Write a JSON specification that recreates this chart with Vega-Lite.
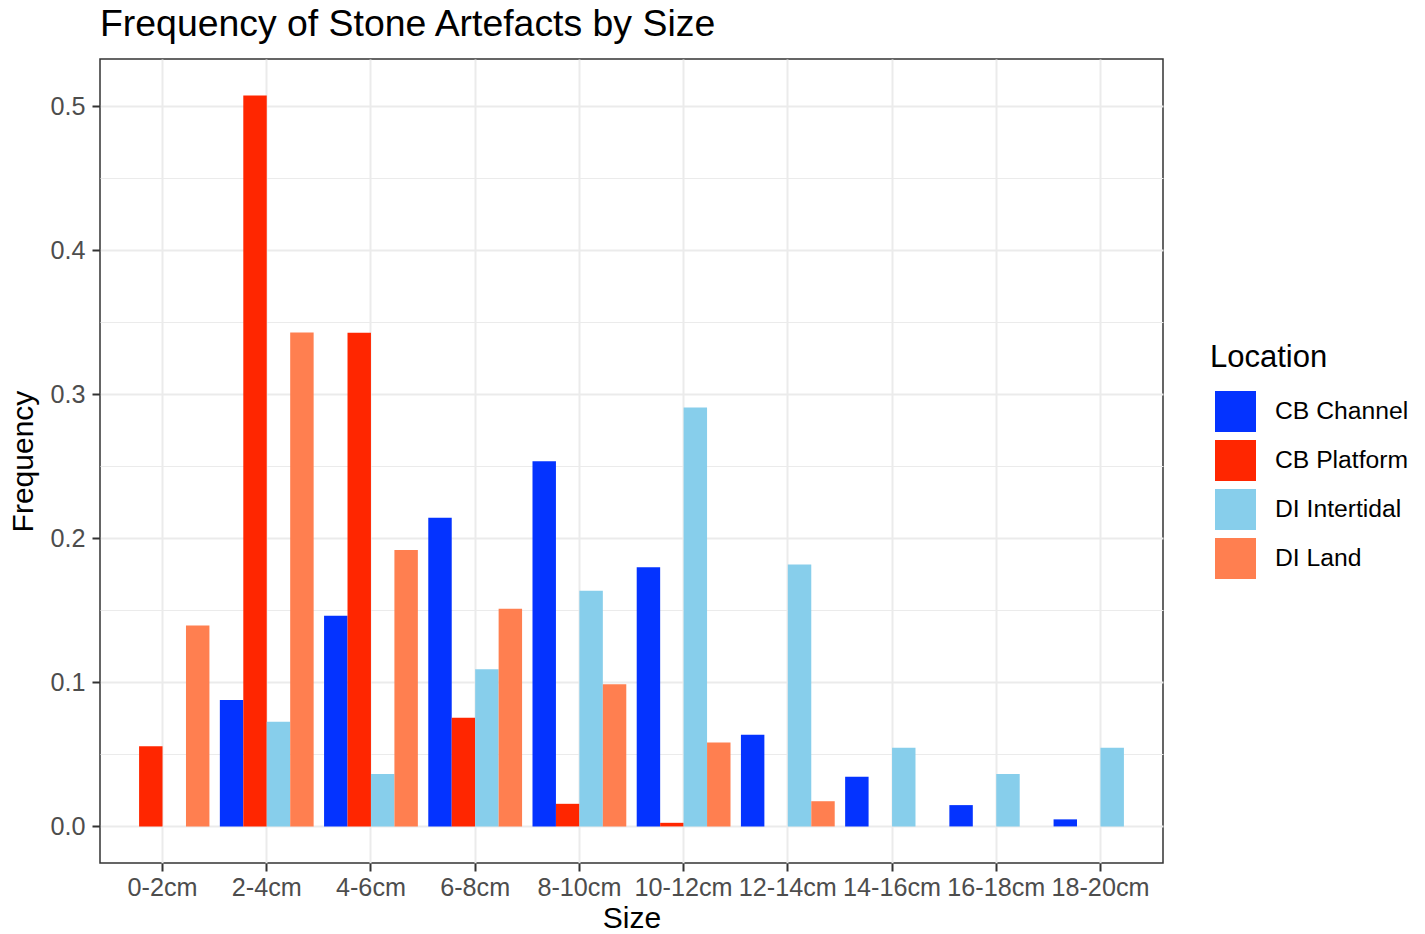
{
  "$schema": "https://vega.github.io/schema/vega-lite/v6.json",
  "width": 1063,
  "height": 804,
  "autosize": {"type": "none"},
  "padding": {"left": 100, "top": 59, "right": 262, "bottom": 71},
  "background": "white",
  "title": {
    "text": "Frequency of Stone Artefacts by Size",
    "anchor": "start",
    "frame": "group",
    "fontSize": 37.4,
    "fontWeight": "normal",
    "font": "Liberation Sans",
    "color": "#000000",
    "offset": 16
  },
  "config": {
    "font": "Liberation Sans",
    "view": {"stroke": "#333333", "strokeWidth": 1.5},
    "axis": {
      "domain": false,
      "gridColor": "#EBEBEB",
      "tickColor": "#333333",
      "tickWidth": 2,
      "tickSize": 8,
      "labelColor": "#4D4D4D",
      "labelFontSize": 25.2,
      "labelFont": "Liberation Sans",
      "titleFont": "Liberation Sans",
      "titleFontSize": 30,
      "titleFontWeight": "normal",
      "titleColor": "#000000"
    }
  },
  "data": {
    "values": [
      {"Size": "0-2cm", "Location": "CB Platform", "Frequency": 0.0557},
      {"Size": "0-2cm", "Location": "DI Land", "Frequency": 0.1395},
      {"Size": "2-4cm", "Location": "CB Channel", "Frequency": 0.0878},
      {"Size": "2-4cm", "Location": "CB Platform", "Frequency": 0.5075},
      {"Size": "2-4cm", "Location": "DI Intertidal", "Frequency": 0.0727},
      {"Size": "2-4cm", "Location": "DI Land", "Frequency": 0.343},
      {"Size": "4-6cm", "Location": "CB Channel", "Frequency": 0.1463},
      {"Size": "4-6cm", "Location": "CB Platform", "Frequency": 0.3428},
      {"Size": "4-6cm", "Location": "DI Intertidal", "Frequency": 0.0364},
      {"Size": "4-6cm", "Location": "DI Land", "Frequency": 0.1919},
      {"Size": "6-8cm", "Location": "CB Channel", "Frequency": 0.2144},
      {"Size": "6-8cm", "Location": "CB Platform", "Frequency": 0.0755},
      {"Size": "6-8cm", "Location": "DI Intertidal", "Frequency": 0.1091},
      {"Size": "6-8cm", "Location": "DI Land", "Frequency": 0.1512},
      {"Size": "8-10cm", "Location": "CB Channel", "Frequency": 0.2535},
      {"Size": "8-10cm", "Location": "CB Platform", "Frequency": 0.0157},
      {"Size": "8-10cm", "Location": "DI Intertidal", "Frequency": 0.1636},
      {"Size": "8-10cm", "Location": "DI Land", "Frequency": 0.0988},
      {"Size": "10-12cm", "Location": "CB Channel", "Frequency": 0.18},
      {"Size": "10-12cm", "Location": "CB Platform", "Frequency": 0.0025},
      {"Size": "10-12cm", "Location": "DI Intertidal", "Frequency": 0.2909},
      {"Size": "10-12cm", "Location": "DI Land", "Frequency": 0.0583},
      {"Size": "12-14cm", "Location": "CB Channel", "Frequency": 0.0637},
      {"Size": "12-14cm", "Location": "DI Intertidal", "Frequency": 0.1818},
      {"Size": "12-14cm", "Location": "DI Land", "Frequency": 0.0175},
      {"Size": "14-16cm", "Location": "CB Channel", "Frequency": 0.0345},
      {"Size": "14-16cm", "Location": "DI Intertidal", "Frequency": 0.0547},
      {"Size": "16-18cm", "Location": "CB Channel", "Frequency": 0.0148},
      {"Size": "16-18cm", "Location": "DI Intertidal", "Frequency": 0.0364},
      {"Size": "18-20cm", "Location": "CB Channel", "Frequency": 0.0049},
      {"Size": "18-20cm", "Location": "DI Intertidal", "Frequency": 0.0547}
    ]
  },
  "mark": {"type": "bar", "strokeWidth": 0},
  "encoding": {
    "x": {
      "field": "Size",
      "type": "nominal",
      "sort": ["0-2cm", "2-4cm", "4-6cm", "6-8cm", "8-10cm", "10-12cm", "12-14cm", "14-16cm", "16-18cm", "18-20cm"],
      "scale": {"paddingInner": 0.1, "paddingOuter": 0.15},
      "axis": {
        "title": "Size",
        "labelAngle": 0,
        "bandPosition": 0.5,
        "grid": true,
        "gridWidth": 2,
        "labelPadding": 4,
        "titlePadding": 3
      }
    },
    "xOffset": {
      "field": "Location",
      "type": "nominal",
      "sort": ["CB Channel", "CB Platform", "DI Intertidal", "DI Land"],
      "scale": {"domain": ["CB Channel", "CB Platform", "DI Intertidal", "DI Land"], "paddingInner": 0, "paddingOuter": 0}
    },
    "y": {
      "field": "Frequency",
      "type": "quantitative",
      "scale": {"domain": [-0.0254, 0.5329], "nice": false, "zero": false},
      "axis": {
        "title": "Frequency",
        "values": [0, 0.05, 0.1, 0.15, 0.2, 0.25, 0.3, 0.35, 0.4, 0.45, 0.5],
        "labelExpr": "round(datum.value*20) % 2 == 1 ? '' : format(datum.value, '.1f')",
        "grid": true,
        "gridWidth": {"condition": {"test": "round(datum.value*20) % 2 == 1", "value": 1.2}, "value": 2},
        "tickOpacity": {"condition": {"test": "round(datum.value*20) % 2 == 1", "value": 0}, "value": 1},
        "labelPadding": 7,
        "titlePadding": 11
      }
    },
    "color": {
      "field": "Location",
      "type": "nominal",
      "scale": {
        "domain": ["CB Channel", "CB Platform", "DI Intertidal", "DI Land"],
        "range": ["#0433FF", "#FF2600", "#87CEEB", "#FF7F50"]
      },
      "legend": {
        "title": "Location",
        "orient": "none",
        "legendX": 1110,
        "legendY": 284,
        "padding": 0,
        "symbolType": "square",
        "symbolSize": 1681,
        "symbolStrokeWidth": 0,
        "symbolOpacity": 1,
        "symbolOffset": 5,
        "rowPadding": 8,
        "labelOffset": 19,
        "labelFontSize": 24.7,
        "labelFont": "Liberation Sans",
        "labelColor": "#000000",
        "titleFontSize": 31,
        "titleFontWeight": "normal",
        "titleFont": "Liberation Sans",
        "titleColor": "#000000",
        "titlePadding": 17,
        "labelLimit": 300
      }
    }
  }
}
